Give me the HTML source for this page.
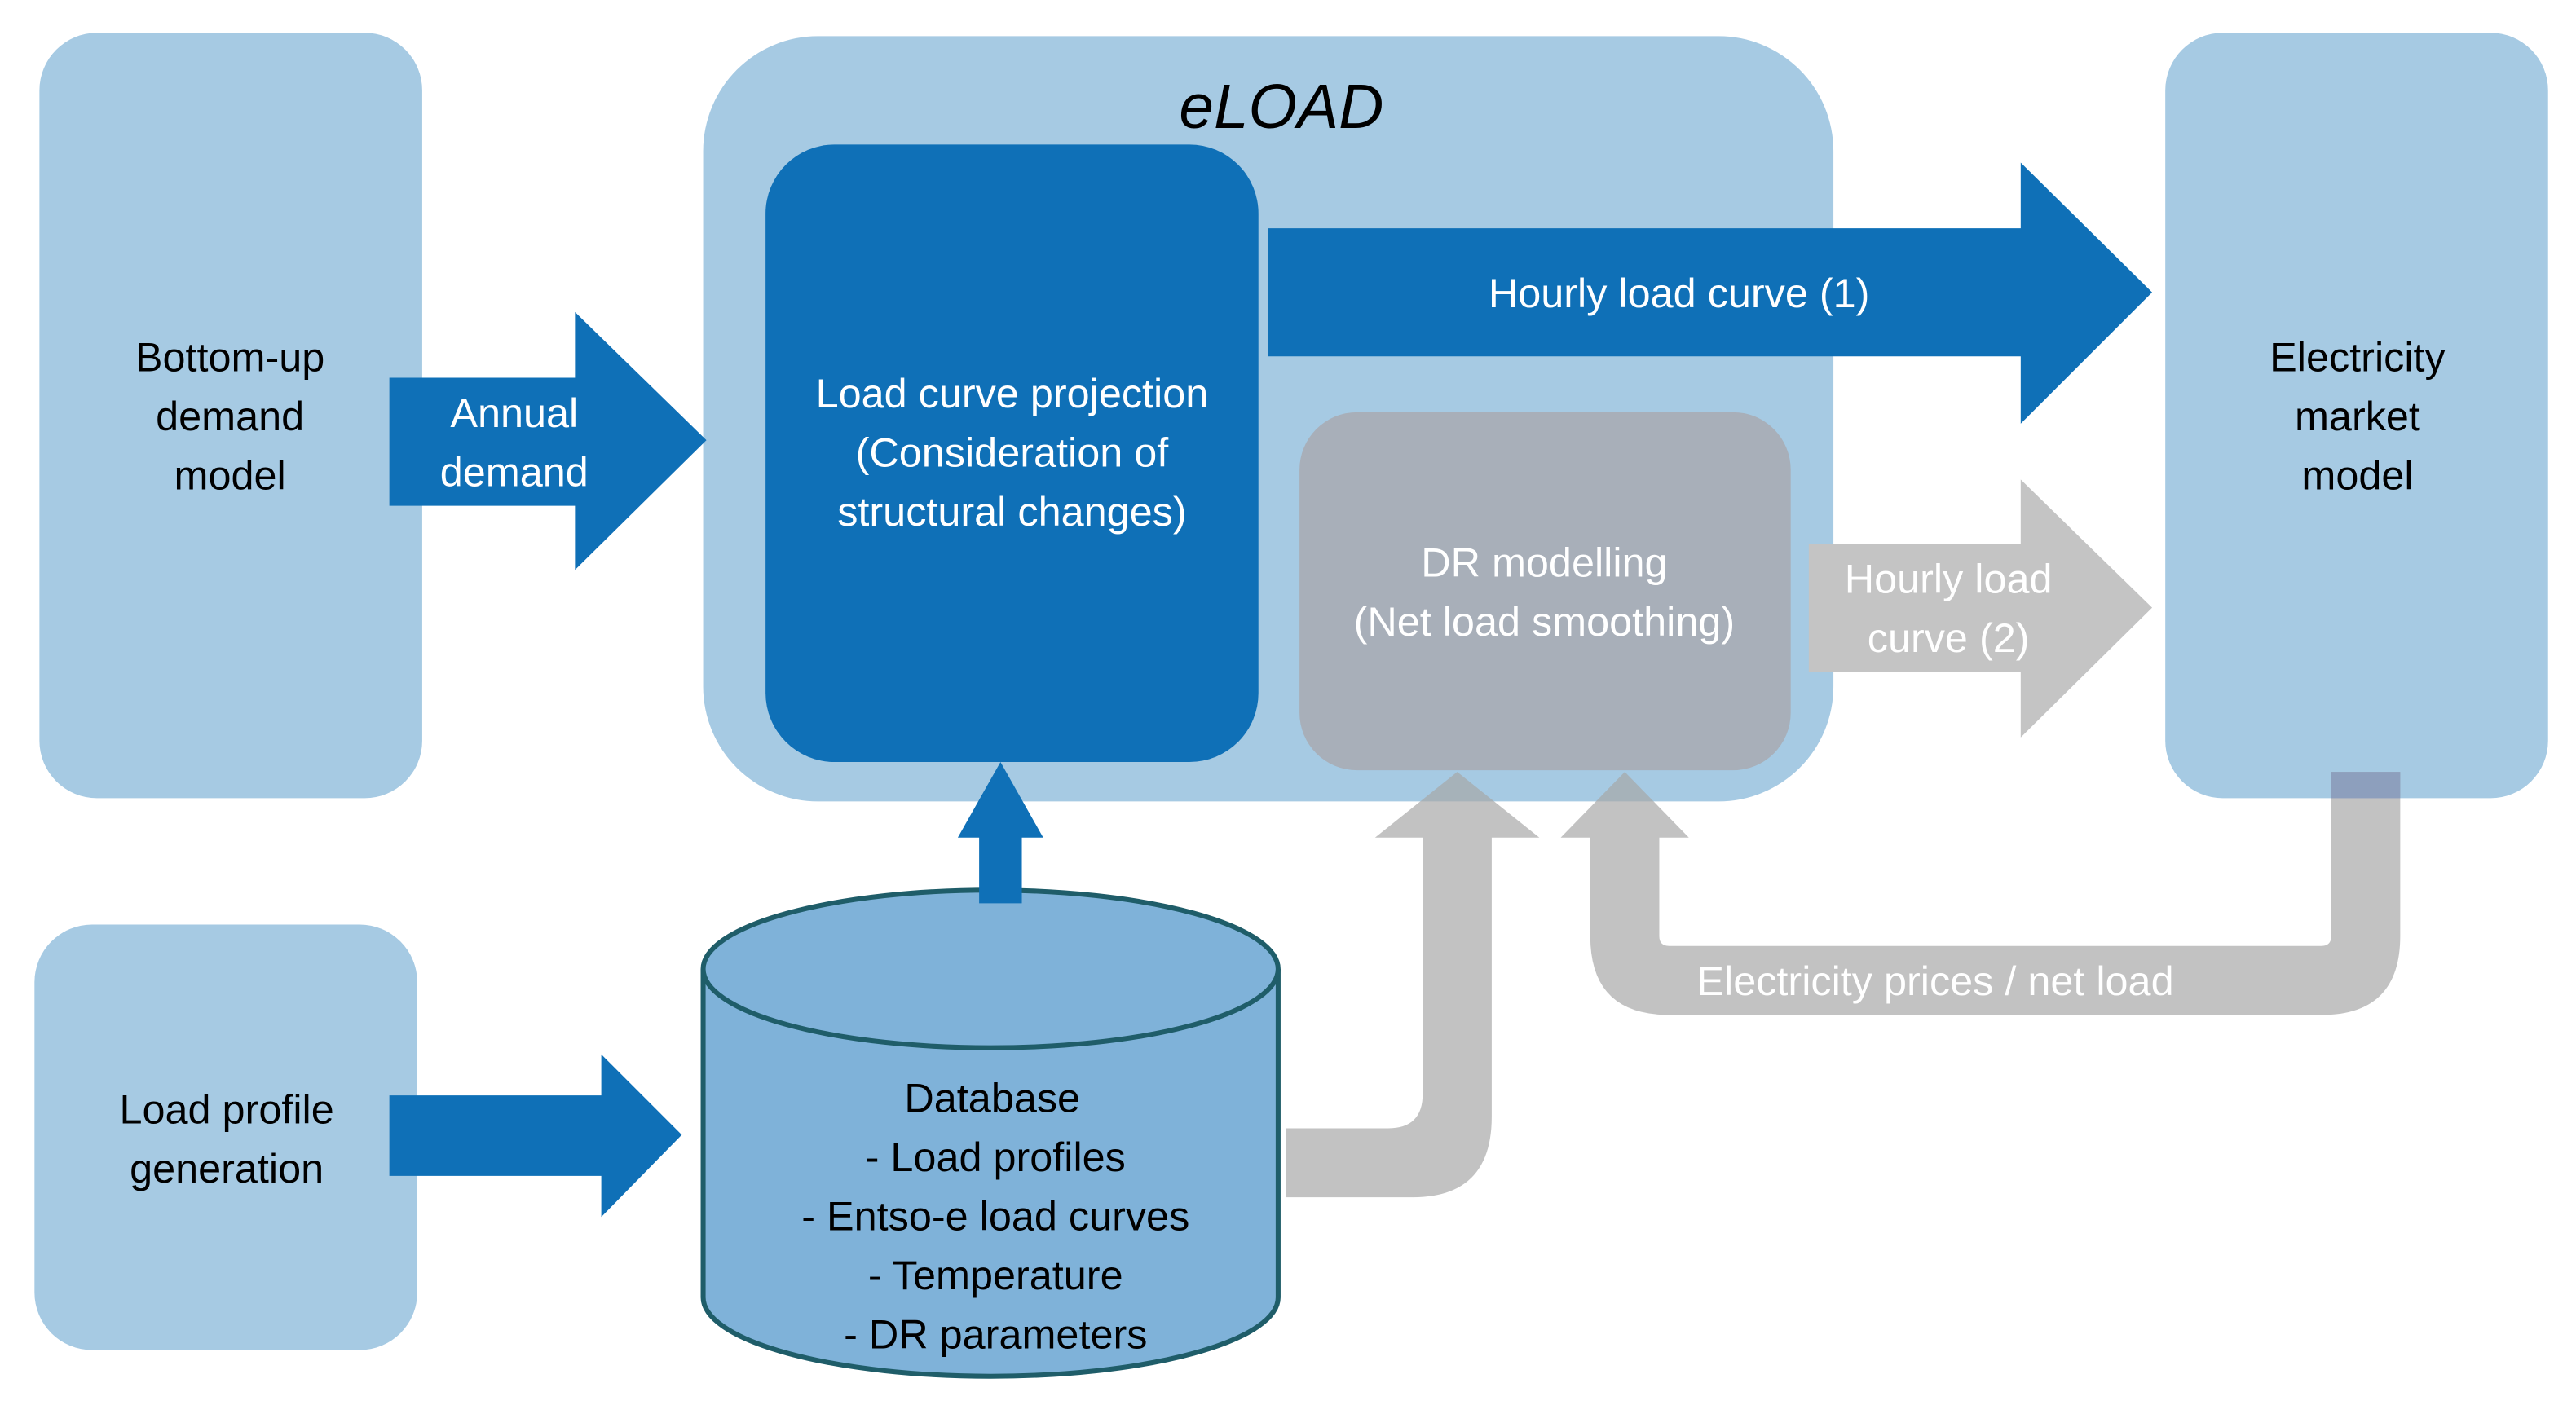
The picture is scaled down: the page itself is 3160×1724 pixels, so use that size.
<!DOCTYPE html>
<html><head><meta charset="utf-8"><style>
html,body{margin:0;padding:0;background:#fff;}
svg{display:block;}
text{font-family:"Liberation Sans",Arial,sans-serif;}
</style></head><body>
<svg width="3160" height="1724" viewBox="0 0 1568 855.5" preserveAspectRatio="none" xmlns="http://www.w3.org/2000/svg">
<rect x="0" y="0" width="1568" height="856" fill="#fff"/>
<rect x="24" y="20" width="233" height="466" rx="35" fill="#a6cae3"/>
<rect x="428" y="22" width="688" height="466" rx="70" fill="#a6cae3"/>
<rect x="1318" y="20" width="233" height="466" rx="35" fill="#a6cae3"/>
<rect x="21" y="563" width="233" height="259" rx="35" fill="#a6cae3"/>
<rect x="466" y="88" width="300" height="376" rx="42" fill="#0f70b7"/>
<rect x="791" y="251" width="299" height="218" rx="35" fill="#a8afb9"/>

<polygon points="237,230 350,230 350,190 430,268 350,347 350,308 237,308" fill="#0f70b7"/>
<polygon points="772,139 1230,139 1230,99 1310,178 1230,258 1230,217 772,217" fill="#0f70b7"/>
<polygon points="1101,331 1230,331 1230,292 1310,370 1230,449 1230,409 1101,409" fill="#c4c4c4"/>
<polygon points="237,667 366,667 366,642 415,691 366,741 366,716 237,716" fill="#0f70b7"/>

<g fill="#a6a6a6" fill-opacity="0.69">
<path d="M783,687 H845 Q866,687 866,666 V510 H837 L887,470 L937,510 H908 V680 Q908,729 860,729 H783 Z"/>
<path d="M1419,470 V570 Q1419,576 1413,576 H1016 Q1010,576 1010,570 V510 H1028 L989,470 L950,510 H968 V570 Q968,618 1016,618 H1413 Q1461,618 1461,570 V470 Z"/>
</g>
<rect x="1419" y="470" width="42" height="16" fill="#8d9fbd"/>

<path d="M428,590 V790 A175,48 0 0 0 778,790 V590" fill="#7fb2d9" stroke="#1f5d69" stroke-width="3"/>
<ellipse cx="603" cy="590" rx="175" ry="48" fill="#7fb2d9" stroke="#1f5d69" stroke-width="3"/>
<polygon points="596,550 596,510 583,510 609,464 635,510 622,510 622,550" fill="#0f70b7"/>

<g font-size="25" fill="#000" text-anchor="middle">
<text x="140" y="226">Bottom-up</text>
<text x="140" y="262">demand</text>
<text x="140" y="298">model</text>
<text x="1435" y="226">Electricity</text>
<text x="1435" y="262">market</text>
<text x="1435" y="298">model</text>
<text x="138" y="684">Load profile</text>
<text x="138" y="720">generation</text>
<text x="604" y="677">Database</text>
<text x="606" y="713">- Load profiles</text>
<text x="606" y="749">- Entso-e load curves</text>
<text x="606" y="785">- Temperature</text>
<text x="606" y="821">- DR parameters</text>
</g>
<text x="780" y="78" font-size="38" font-style="italic" text-anchor="middle" fill="#000">eLOAD</text>
<g font-size="25" fill="#fff" text-anchor="middle">
<text x="313" y="260">Annual</text>
<text x="313" y="296">demand</text>
<text x="616" y="248">Load curve projection</text>
<text x="616" y="284">(Consideration of</text>
<text x="616" y="320">structural changes)</text>
<text x="1022" y="187">Hourly load curve (1)</text>
<text x="940" y="351">DR modelling</text>
<text x="940" y="387">(Net load smoothing)</text>
<text x="1186" y="361">Hourly load</text>
<text x="1186" y="397">curve (2)</text>
<text x="1178" y="606">Electricity prices / net load</text>
</g>
</svg>
</body></html>
